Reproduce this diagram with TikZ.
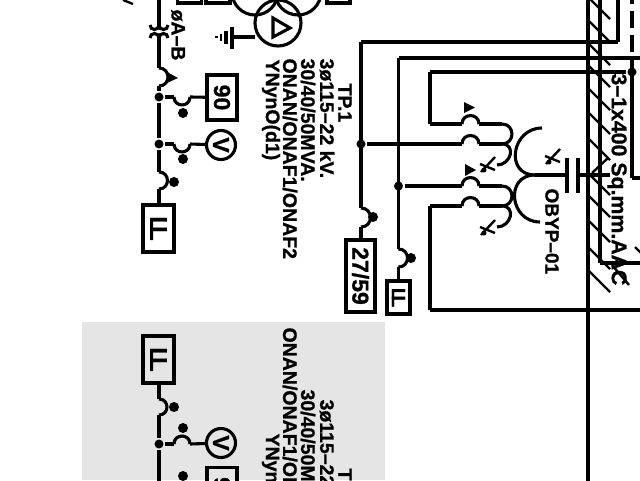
\documentclass[tikz,border=0pt]{standalone}
\usepackage{fontspec}
\setmainfont{Liberation Sans}[BoldFeatures={FakeBold=1}]
\definecolor{panel}{HTML}{E5E5E5}
\tikzset{
  wire/.style={line width=3.1pt},
  tag/.style={rotate=-90,inner sep=0pt,font=\fontsize{19.5}{20}\selectfont\bfseries},
  bigtag/.style={tag,font=\fontsize{23}{24}\selectfont\bfseries},
  relay/.style={draw,line width=3.1pt,minimum height=#1,inner sep=0pt},
  meter/.style={draw,circle,line width=3.1pt,minimum size=29pt,inner sep=0pt},
  joint/.style={fill,circle,minimum size=9pt,inner sep=0pt},
  pilot/.style={fill,circle,minimum size=10pt,inner sep=0pt},
  hump/.style={looseness=1.7,out=#1,in=#1},
  hatching/.style={line width=2.4pt},
}
\newcommand{\markLL}[2]{\fontsize{#1}{#1}\selectfont L\kern-#2pt L}
\begin{document}
\begin{tikzpicture}[x=1pt,y=-1pt,wire]
  \useasboundingbox (0,0) rectangle (640,480);
  \clip (0,0) rectangle (640,480);
  \fill[panel] (82,322) rectangle (385,480);
  % hatching
  \foreach \y in {-3,20,43,65,88,112,138,173,195,220,247,270}
    \draw[hatching] (588,\y) -- ++(22,22);
  \draw[hatching] (592,173) -- (608,158);
  \draw[hatching] (612,265) -- ++(17,20);
  \draw[hatching] (635,247) -- ++(6,6);
  % labels
  \draw
    (178,8) node[tag,anchor=west] (phase){øA–B}
    (345,82) node[tag,anchor=west] (tp1){TP.1}
    (327,57) node[tag,anchor=west] (volt1){3ø115–22 kV.}
    (308,57) node[tag,anchor=west] (mva1){30/40/50MVA.}
    (290,57) node[tag,anchor=west] (cool1){ONAN/ONAF1/ONAF2}
    (271,58) node[tag,anchor=west] (vec1){YNynO(d1)}
    (345,467) node[tag,anchor=west] (tp2){TP.1}
    (327,398) node[tag,anchor=west] (volt2){3ø115–22 kV.}
    (308,388) node[tag,anchor=west] (mva2){30/40/50MVA.}
    (290,326) node[tag,anchor=west] (cool2){ONAN/ONAF1/ONAF2}
    (271,432) node[tag,anchor=west] (vec2){YNynO(d1)}
    (552,187) node[tag,anchor=west,font=\fontsize{19}{20}\selectfont\bfseries] (byp){OBYP–01}
    (617,72) node[tag,anchor=west,font=\fontsize{21.3}{22}\selectfont\bfseries] (cable){3–1x400 Sq.mm.AAC};
  % relays and meters
  \draw
    (222,97.5) node[bigtag,relay=30pt,minimum width=45pt] (r90){90}
    (221,145) node[bigtag,meter] (v1){V}
    (158.5,228.5) node[tag,relay=31pt,minimum width=47pt] (r51a){\markLL{24}{5}}
    (360.5,276) node[bigtag,relay=29pt,minimum width=72pt] (r27){27/59}
    (398.5,297.5) node[tag,relay=23pt,minimum width=33pt] (r51b){\markLL{19}{4}}
    (158.5,359.5) node[tag,relay=31pt,minimum width=47pt] (r51c){\markLL{24}{5}}
    (221,443) node[bigtag,meter] (v2){V}
    (222,490) node[bigtag,relay=30pt,minimum width=45pt] (r90b){90}
    (189.5,-20) node[relay=46pt,minimum width=24pt] (top1){}
    (218,-20) node[relay=46pt,minimum width=24pt] (top2){}
    (338.5,-20) node[relay=46pt,minimum width=23pt] (top3){};
  % joints and pilots
  \draw
    (159,97) node[joint] (j1){}
    (159,144) node[joint] (j2){}
    (361,144) node[joint] (j3){}
    (398.5,186) node[joint] (j4){}
    (632,72) node[joint] (j5){}
    (159,444) node[joint] (j6){}
    (183,113) node[pilot] (p1){}
    (183,159) node[pilot] (p2){}
    (174,182) node[pilot] (p3){}
    (373,217) node[pilot] (p4){}
    (411,258) node[pilot] (p5){}
    (174,407) node[pilot] (p6){}
    (183,428) node[pilot] (p7){}
    (183,476) node[pilot] (p8){};
  % free ends of wires
  \coordinate (a0) at (159,-5);
  \coordinate (a1) at (159,25);
  \coordinate (a2) at (150,25);
  \coordinate (a3) at (168,25);
  \coordinate (a9) at (159,38);
  \coordinate (a10) at (150,38);
  \coordinate (a11) at (168,38);
  \coordinate (a4) at (159,68);
  \coordinate (a5) at (159,86);
  \coordinate (a6) at (159,172);
  \coordinate (a7) at (159,189);
  \coordinate (b1) at (174,97);
  \coordinate (b2) at (190,97);
  \coordinate (b3) at (174,144);
  \coordinate (b4) at (190,144);
  \coordinate (c1) at (159,399);
  \coordinate (c2) at (159,415);
  \coordinate (c3) at (159,490);
  \coordinate (c4) at (174,444);
  \coordinate (c5) at (190,444);
  \coordinate (d1) at (361,42);
  \coordinate (d2) at (361,208);
  \coordinate (d3) at (361,227);
  \coordinate (d4) at (398.5,58);
  \coordinate (d5) at (398.5,249);
  \coordinate (d6) at (398.5,267);
  \coordinate (e1) at (430,72);
  \coordinate (e2) at (430,124);
  \coordinate (e3) at (430,206);
  \coordinate (e4) at (430,310);
  \foreach \n/\y in {1/124,2/144,3/186,4/206} {
    \coordinate (w\n a) at (462,\y);
    \coordinate (w\n b) at (479,\y);
    \coordinate (w\n c) at (502,\y);
  }
  \coordinate (f1) at (497,165);
  \coordinate (f2) at (497,227);
  % primary side
  \begin{scope}
    \draw (a0) to (a1);
    \draw (a9) to (a4);
    \draw (a2) to[hump=-90] (a1);
    \draw (a1) to[hump=-90] (a3);
    \draw (a10) to[hump=90] (a9);
    \draw (a9) to[hump=90] (a11);
    \draw (a4) to[hump=0] (a5);
    \draw (a5) to (j1);
    \draw (j1) to (b1);
    \draw (b1) to[hump=-90] (b2);
    \draw (b2) to (r90);
    \draw (j1) to (j2);
    \draw (j2) to (b3);
    \draw (b3) to[hump=-90] (b4);
    \draw (b4) to (v1);
    \draw (j2) to (a6);
    \draw (a6) to[hump=0] (a7);
    \draw (a7) to (a7 |- r51a.west);
    \draw (a7 |- r51c.east) to (c1);
    \draw (c1) to[hump=0] (c2);
    \draw (c2) to (j6);
    \draw (j6) to (c3);
    \draw (j6) to (c4);
    \draw (c4) to[hump=90] (c5);
    \draw (c5) to (v2);
  \end{scope}
  % transformer windings
  \begin{scope}
    \draw (d1) to (d2);
    \draw (d2) to[hump=0] (d3);
    \draw (d3) to (d3 |- r27.west);
    \draw (d4) to (d5);
    \draw (d5) to[hump=0] (d6);
    \draw (d6) to (d6 |- r51b.west);
    \draw (e1) to (e2);
    \draw (e2) to (w1a);
    \draw (j3) to (w2a);
    \draw (j4) to (w3a);
    \draw (e3) to (w4a);
    \draw (e3) to (e4);
    \foreach \n in {1,2,3,4} {
      \draw (w\n a) to[hump=90] (w\n b);
      \draw (w\n b) to (w\n c);
    }
    \draw (w1c) to[hump=0] (w2c);
    \draw (w3c) to[hump=0] (w4c);
    \draw (w2c) to[hump=0] (f1);
    \draw (w4c) to[hump=0] (f2);
  \end{scope}
  % earthing winding and capacitor
  \coordinate (g1) at (542,128);
  \coordinate (g2) at (535,175);
  \coordinate (g3) at (540,222);
  \coordinate (g4) at (567,175);
  \coordinate (g5) at (578,175);
  \coordinate (g6) at (610,175);
  \draw (g1) to[hump=180,looseness=1.65] (g2);
  \draw (g2) to[hump=180,looseness=1.65] (g3);
  \draw (g2) to (g4);
  \draw (g5) to (g6);
  \draw (567,158) -- (567,193);
  \draw (578,158) -- (578,193);
  % delta winding marks
  \fill (464,102) -- (475,107.5) -- (464,113) -- cycle;
  \fill (465,164) -- (476,170) -- (465,176) -- cycle;
  \fill (167,72) -- (178,78) -- (167,83) -- cycle;
  \foreach \x/\y in {488/165,488/228,553/157} {
    \draw[line width=2.4pt] (\x+7,\y-8) -- (\x-7,\y+7);
    \draw[line width=2.4pt] (\x-8,\y-1) -- (\x+7,\y+5);
    \fill (\x-4,\y+5) circle (2.5pt);
  }
  % busbars and cables
  \coordinate (h1) at (618,42);
  \coordinate (h2) at (618,-5);
  \coordinate (h3) at (645,58);
  \coordinate (h4) at (632,58);
  \coordinate (h5) at (632,178);
  \coordinate (h6) at (645,178);
  \coordinate (h7) at (645,310);
  \coordinate (h8) at (600,-5);
  \coordinate (h9) at (600,263);
  \coordinate (h10) at (645,263);
  \draw (d1) to (h1);
  \draw (h1) to (h2);
  \draw (d4) to (h3);
  \draw (e1) to (j5);
  \draw (h4) to (h5);
  \draw (h5) to (h6);
  \draw (e4) to (h7);
  \draw (h8) to (h9);
  \draw (h9) to (h10);
  \draw[dash pattern=on 17pt off 7pt] (632,52) -- (632,-5);
  \draw[line width=3.4pt] (588,-5) -- (588,485);
  % power transformer bushing
  \draw (278,23) circle (23pt);
  \draw (255,-8) circle (23pt);
  \draw (298,-8) circle (23pt);
  \draw (273,18) -- (290,28) -- (273,37) -- cycle;
  \draw (232,37) -- (255,37);
  \draw (232,27) -- (232,49);
  \draw (226,31) -- (226,44);
  \draw[line width=2.4pt] (221,34) -- (221,41);
  \draw[line width=2.4pt] (215,37) -- (218,37);
  \draw[line width=2.4pt] (123,0) -- (133,4);
\end{tikzpicture}
\end{document}
